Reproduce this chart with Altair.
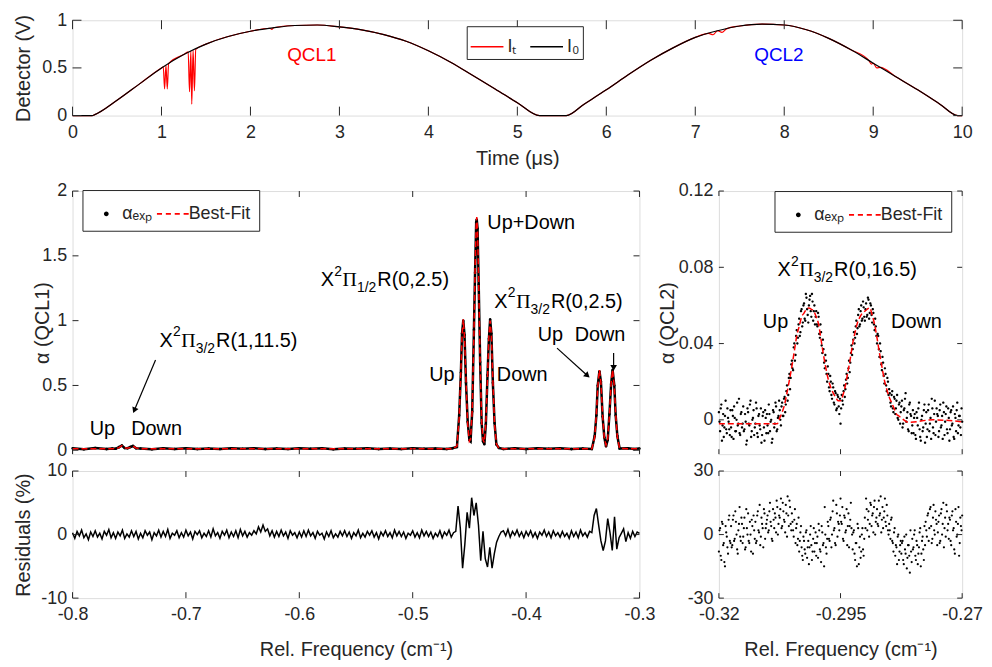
import altair as alt
import numpy as np
import pandas as pd

FONT = "Liberation Sans"
SERIF = "Liberation Serif"
AX = "#262626"

# ---------------- top panel: detector signals ----------------
time_ticks = [0, 1, 2, 3, 4, 5, 6, 7, 8, 9, 10]
det_ticks = [0, 0.5, 1]
t_i0 = [0.0, 0.22, 0.25, 0.5, 0.75, 1.0, 1.25, 1.5, 1.75, 2.0, 2.25, 2.5, 2.75, 3.0, 3.25, 3.5,
        3.75, 4.0, 4.25, 4.5, 4.75, 5.0, 5.25, 5.55, 5.75, 6.0, 6.25, 6.5, 6.75, 7.0, 7.25, 7.5,
        7.75, 8.0, 8.25, 8.5, 8.75, 9.0, 9.25, 9.5, 9.75, 9.95, 10.0]
i0 = [0.0, 0.0, 0.01, 0.16, 0.33, 0.50, 0.64, 0.75, 0.83, 0.885, 0.92, 0.945, 0.95, 0.93, 0.90, 0.85,
      0.78, 0.68, 0.56, 0.42, 0.28, 0.135, 0.0, 0.0, 0.12, 0.27, 0.43, 0.58, 0.71, 0.82, 0.89, 0.94,
      0.96, 0.95, 0.90, 0.81, 0.69, 0.55, 0.41, 0.27, 0.12, 0.0, 0.0]
t_it = [0.0, 0.22, 0.25, 0.5, 0.75, 1.0, 1.02, 1.035, 1.05, 1.065, 1.08, 1.25, 1.30, 1.315, 1.33,
        1.34, 1.355, 1.37, 1.385, 1.5, 1.75, 2.0, 2.22, 2.24, 2.26, 2.5, 2.75, 3.0, 3.25, 3.5, 3.75,
        4.0, 4.25, 4.5, 4.75, 5.0, 5.25, 5.55, 5.75, 6.0, 6.25, 6.5, 6.75, 7.0, 7.15, 7.2, 7.25, 7.3,
        7.35, 7.5, 7.75, 8.0, 8.25, 8.5, 8.75, 8.95, 8.98, 9.0, 9.04, 9.08, 9.25, 9.5, 9.75, 9.95, 10.0]
it = [0.0, 0.0, 0.01, 0.16, 0.33, 0.50, 0.511, 0.28, 0.528, 0.28, 0.545, 0.64, 0.668, 0.25, 0.677,
      0.12, 0.686, 0.26, 0.695, 0.75, 0.83, 0.885, 0.916, 0.905, 0.921, 0.945, 0.95, 0.93, 0.90, 0.85, 0.78,
      0.68, 0.56, 0.42, 0.28, 0.135, 0.0, 0.0, 0.12, 0.27, 0.43, 0.58, 0.71, 0.82, 0.862, 0.848, 0.89, 0.872,
      0.91, 0.94, 0.96, 0.95, 0.90, 0.81, 0.69, 0.578, 0.54, 0.55, 0.50, 0.506, 0.41, 0.27, 0.12, 0.0, 0.0]
qcl_t = [2.69, 7.94]
qcl_v = [0.635, 0.635]

# ---------------- bottom-left: QCL1 spectrum ----------------
f1_ticks = [-0.8, -0.7, -0.6, -0.5, -0.4, -0.3]
a1_ticks = [0, 0.5, 1, 1.5, 2]
r1_ticks = [-10, 0, 10]
f1 = [-0.800, -0.790, -0.780, -0.770, -0.765, -0.762, -0.759, -0.7565, -0.754, -0.7515, -0.749, -0.7467,
      -0.744, -0.740,
      -0.730, -0.720, -0.710, -0.700, -0.690, -0.680, -0.670, -0.660, -0.650, -0.640, -0.630, -0.620,
      -0.610, -0.600, -0.590, -0.580, -0.570, -0.560, -0.550, -0.540, -0.530, -0.520, -0.510, -0.500,
      -0.490, -0.480, -0.470, -0.465,
      -0.4610, -0.4590, -0.4575, -0.4565, -0.4554, -0.4543, -0.4530, -0.4515, -0.4500, -0.4490,
      -0.4475, -0.4460, -0.4450, -0.4440, -0.4435, -0.4428, -0.4418, -0.4405, -0.4392, -0.4380,
      -0.4368, -0.4355, -0.4340, -0.4328, -0.4317, -0.4306, -0.4293, -0.4278, -0.4262, -0.4240,
      -0.420, -0.410, -0.400, -0.390, -0.380, -0.370, -0.360, -0.350,
      -0.3420, -0.3395, -0.3380, -0.3368, -0.3353, -0.3340, -0.3325, -0.3310, -0.3295, -0.3280,
      -0.3265, -0.3250, -0.3237, -0.3222, -0.3210, -0.3195, -0.3175,
      -0.3100, -0.3050, -0.3000]
a1_fit = [0.012, 0.012, 0.012, 0.012, 0.012, 0.013, 0.020, 0.035, 0.020, 0.015, 0.022, 0.032, 0.018, 0.012,
          0.012, 0.012, 0.012, 0.012, 0.012, 0.012, 0.012, 0.012, 0.012, 0.012, 0.012, 0.012, 0.012, 0.012,
          0.012, 0.012, 0.012, 0.012, 0.012, 0.012, 0.012, 0.012, 0.012, 0.012, 0.012, 0.012, 0.012, 0.012,
          0.030, 0.25, 0.62, 0.88, 1.01, 0.87, 0.54, 0.20, 0.07, 0.085,
          0.31, 0.90, 1.39, 1.74, 1.80, 1.69, 1.30, 0.66, 0.23, 0.08,
          0.06, 0.21, 0.56, 0.88, 1.00, 0.88, 0.54, 0.20, 0.05, 0.015,
          0.012, 0.012, 0.012, 0.012, 0.012, 0.012, 0.012, 0.012,
          0.012, 0.10, 0.28, 0.49, 0.62, 0.52, 0.27, 0.09, 0.04, 0.09,
          0.27, 0.52, 0.62, 0.49, 0.28, 0.10, 0.015,
          0.012, 0.012, 0.012]
a1_exp = [0.016, 0.008, 0.017, 0.009, 0.014, 0.011, 0.024, 0.037, 0.017, 0.016, 0.025, 0.033, 0.015, 0.014,
          0.008, 0.015, 0.010, 0.016, 0.009, 0.014, 0.010, 0.016, 0.011, 0.015, 0.009, 0.014, 0.010, 0.016,
          0.011, 0.015, 0.008, 0.014, 0.011, 0.016, 0.009, 0.013, 0.010, 0.015, 0.011, 0.014, 0.010, 0.015,
          0.025, 0.27, 0.60, 0.90, 1.00, 0.89, 0.52, 0.22, 0.08, 0.07,
          0.30, 0.93, 1.37, 1.76, 1.78, 1.71, 1.28, 0.68, 0.21, 0.07,
          0.046, 0.20, 0.58, 0.86, 1.01, 0.90, 0.52, 0.21, 0.045, 0.018,
          0.010, 0.016, 0.009, 0.015, 0.011, 0.016, 0.009, 0.014,
          0.010, 0.11, 0.27, 0.50, 0.61, 0.53, 0.26, 0.10, 0.03, 0.08,
          0.28, 0.51, 0.62, 0.50, 0.27, 0.11, 0.013,
          0.016, 0.009, 0.014]
# residuals (%) on the measurement grid -0.800 ... -0.300, step 0.002
r1 = [0.3, -0.6, 0.5, -0.2, 0.7, -0.5, 0.1, -0.8, 0.4, -0.3,
      0.6, -0.4, 0.2, -0.7, 0.5, -0.1, 0.8, -0.5, 0.3, -0.6,
      0.4, -0.2, 0.7, -0.6, 0.1, -0.4, 0.6, -0.3, 0.5, -0.7,
      0.2, -0.5, 0.6, -0.1, 0.4, -0.8, 0.3, -0.2, 0.7, -0.4,
      0.5, -0.3, 0.8, -0.6, 0.2, -0.1, 0.6, -0.5, 0.3, -0.4,
      0.7, -0.2, 0.4, -0.7, 0.5, 0.0, 0.6, -0.5, 0.2, -0.3,
      0.6, -0.4, 0.9, -0.2, 0.3, -0.6, 0.5, -0.1, 0.7, -0.5,
      0.4, -0.3, 0.6, -0.5, 0.8, -0.2, 0.5, -0.4, 0.3, -0.1,
      0.6, 0.1, 1.2, 0.4, 1.5, 0.5, 0.9, -0.2, 0.6, -0.4,
      0.5, -0.3, 0.7, -0.2, 0.4, -0.6, 0.6, -0.1, 0.3, -0.5,
      0.4, -0.4, 0.6, -0.3, 0.7, -0.2, 0.3, -0.6, 0.5, -0.1,
      0.2, -0.7, 0.4, -0.3, 0.6, -0.5, 0.1, -0.4, 0.5, -0.2,
      0.6, -0.3, 0.4, -0.6, 0.3, -0.2, 0.7, -0.5, 0.2, -0.4,
      0.5, -0.1, 0.6, -0.4, 0.3, -0.7, 0.4, -0.2, 0.6, -0.3,
      0.3, -0.5, 0.7, -0.2, 0.5, -0.3, 0.4, -0.6, 0.2, -0.1,
      0.6, -0.4, 0.3, -0.5, 0.7, -0.2, 0.5, -0.3, 0.4, -0.6,
      0.2, -0.3, 0.6, -0.5, 0.4, -0.1, 0.7, -0.4, 0.3, 0.5,
      4.5, 1.0, -5.3, -1.5, 3.5, 1.0, 5.8, 3.0, 5.0, 1.5,
      -4.1, 0.5, -3.8, -5.1, -2.0, -5.3, -3.0, -1.2, -0.3, 0.4,
      0.6, -0.2, 0.8, -0.4, 0.5, -0.1, 0.7, -0.3, 0.4, -0.5,
      0.5, -0.2, 0.6, -0.4, 0.3, -0.6, 0.4, -0.1, 0.7, -0.3,
      0.4, -0.5, 0.6, -0.2, 0.3, -0.4, 0.5, -0.3, 0.2, -0.6,
      0.6, -0.3, 0.4, -0.5, 0.7, -0.2, 0.3, -0.4, 0.5, 0.3,
      3.0, 4.1, 1.5, -1.0, -2.5, -1.0, 2.5, 0.3, -2.5, 2.8,
      -2.3, -0.5, 0.2, 0.9, -1.1, 0.3, -0.6, 0.5, -0.3, 0.4,
      0.2]

# ---------------- bottom-right: QCL2 spectrum ----------------
f2_ticks = [-0.32, -0.295, -0.27]
a2_ticks = [0, 0.04, 0.08, 0.12]
r2_ticks = [-30, 0, 30]
f2_fit = [-0.320, -0.308,
          -0.3075, -0.307, -0.3065, -0.306, -0.3055, -0.305, -0.3045, -0.304, -0.3035, -0.303,
          -0.3025, -0.302, -0.3015, -0.301, -0.3005, -0.300, -0.2995, -0.299, -0.2985, -0.298,
          -0.2975, -0.297, -0.2965, -0.296, -0.2955, -0.295, -0.2945, -0.294, -0.2935, -0.293,
          -0.2925, -0.292, -0.2915, -0.291, -0.2905, -0.290, -0.2895, -0.289, -0.2885, -0.288,
          -0.2875, -0.287, -0.2865, -0.286, -0.2855, -0.285, -0.2845, -0.284, -0.2835, -0.283,
          -0.282, -0.281, -0.276, -0.270]
a2_fit = [-0.002, -0.002,
          0.001, 0.004, 0.008, 0.0143, 0.021, 0.028, 0.036, 0.044, 0.049, 0.054,
          0.056, 0.058, 0.0587, 0.058, 0.057, 0.054, 0.050, 0.042, 0.034, 0.027,
          0.021, 0.017, 0.014, 0.012, 0.010, 0.010, 0.013, 0.018, 0.025, 0.032,
          0.040, 0.046, 0.051, 0.054, 0.056, 0.057, 0.058, 0.0588, 0.055, 0.050,
          0.043, 0.035, 0.028, 0.021, 0.016, 0.012, 0.009, 0.006, 0.003, 0.002,
          0.000, -0.0013, 0.000, -0.001]
# measured alpha, scan A on the grid -0.32000 ... -0.27000 (step 0.00025)
a2_exp = [0.004, -0.006, 0.008, -0.003, -0.009, 0.002, -0.005, 0.006, -0.001, -0.008,
          -0.004, 0.005, -0.010, 0.001, -0.006, 0.009, -0.002, -0.007, 0.003, -0.004,
          0.007, -0.005, -0.001, -0.011, 0.004, -0.003, 0.010, -0.006, 0.001, -0.008,
          -0.002, 0.006, -0.009, 0.003, -0.005, -0.012, 0.002, -0.004, 0.005, -0.007,
          -0.003, 0.008, -0.006, 0.000, -0.010, 0.004, -0.002, 0.007, -0.005, 0.002,
          0.005, -0.003, 0.009, 0.002, 0.012, 0.008, 0.018, 0.013, 0.024, 0.022,
          0.031, 0.026, 0.040, 0.034, 0.047, 0.043, 0.053, 0.046, 0.058, 0.051,
          0.061, 0.052, 0.064, 0.055, 0.060, 0.065, 0.054, 0.062, 0.057, 0.050,
          0.057, 0.049, 0.054, 0.043, 0.046, 0.035, 0.037, 0.027, 0.031, 0.020,
          0.024, 0.015, 0.020, 0.011, 0.017, 0.008, 0.014, 0.006, 0.012, 0.003,
          -0.002, 0.013, 0.008, 0.018, 0.016, 0.024, 0.022, 0.031, 0.030, 0.039,
          0.037, 0.046, 0.043, 0.052, 0.048, 0.058, 0.050, 0.060, 0.053, 0.059,
          0.052, 0.061, 0.055, 0.063, 0.056, 0.060, 0.051, 0.056, 0.047, 0.049,
          0.040, 0.044, 0.033, 0.036, 0.026, 0.030, 0.019, 0.024, 0.015, 0.020,
          0.016, 0.009, 0.013, 0.006, 0.012, 0.003, 0.010, 0.001, 0.008, -0.002,
          0.007, -0.004, 0.005, 0.011, -0.001, 0.004, -0.006, 0.009, 0.002, -0.003,
          -0.007, 0.003, -0.010, 0.001, 0.006, -0.005, -0.011, 0.002, -0.004, 0.008,
          -0.002, -0.009, 0.005, -0.006, 0.001, 0.011, -0.004, 0.003, -0.008, 0.006,
          0.002, -0.006, 0.008, -0.003, -0.010, 0.004, -0.001, 0.007, -0.007, 0.001,
          -0.005, 0.005, -0.002, -0.009, 0.003, -0.006, 0.009, -0.003, 0.002, -0.008,
          -0.001]
# scan B, interleaved grid -0.319875 ... -0.270125
a2_exp_b = [-0.001, 0.006, -0.011, 0.003, -0.004, 0.010, -0.007, 0.001, -0.005, 0.005,
            -0.009, 0.002, 0.007, -0.006, 0.000, -0.003, 0.011, -0.008, 0.004, -0.002,
            -0.006, 0.003, -0.013, 0.006, -0.002, 0.008, -0.009, 0.000, 0.005, -0.004,
            0.009, -0.007, 0.002, -0.003, 0.006, -0.008, 0.004, -0.011, 0.001, 0.003,
            -0.007, 0.003, -0.001, -0.012, 0.005, -0.004, 0.009, -0.006, 0.001, 0.010,
            0.000, 0.007, 0.002, 0.011, 0.004, 0.015, 0.010, 0.022, 0.016, 0.029,
            0.027, 0.038, 0.031, 0.044, 0.040, 0.050, 0.044, 0.057, 0.049, 0.060,
            0.053, 0.066, 0.058, 0.051, 0.063, 0.057, 0.066, 0.052, 0.060, 0.054,
            0.050, 0.056, 0.045, 0.050, 0.039, 0.042, 0.030, 0.034, 0.024, 0.028,
            0.017, 0.023, 0.013, 0.019, 0.009, 0.015, 0.005, 0.013, 0.007, 0.011,
            0.006, 0.010, 0.015, 0.012, 0.021, 0.019, 0.027, 0.025, 0.035, 0.034,
            0.042, 0.040, 0.049, 0.045, 0.055, 0.049, 0.057, 0.052, 0.062, 0.054,
            0.058, 0.054, 0.064, 0.053, 0.061, 0.055, 0.058, 0.050, 0.053, 0.044,
            0.045, 0.037, 0.040, 0.029, 0.033, 0.023, 0.027, 0.018, 0.022, 0.013,
            0.014, 0.007, 0.015, 0.004, 0.011, 0.006, 0.013, 0.000, 0.009, 0.004,
            0.010, -0.002, 0.006, 0.014, 0.001, -0.005, 0.008, 0.003, -0.007, 0.005,
            0.001, -0.008, 0.004, -0.003, 0.009, -0.009, 0.000, -0.006, 0.005, -0.012,
            0.004, -0.005, 0.008, -0.002, -0.010, 0.006, -0.007, 0.010, -0.001, 0.003,
            -0.009, 0.005, -0.004, 0.002, 0.009, -0.008, 0.003, -0.005, 0.006, -0.011,
            0.004, -0.003, 0.007, -0.010, 0.001, 0.005, -0.007, 0.002, -0.004, 0.006]
r2 = [-8, 3, -12, 5, -4, -15, 1, -6, 7, -3,
      4, -5, 9, -2, 6, -7, 2, 13, -3, 5,
      -1, 8, -6, 3, 10, -4, 0, 7, -9, 2,
      6, -3, 11, 1, -5, 8, 3, 12, -2, 5,
      9, 2, 15, 4, -3, 7, 10, 1, 13, 5,
      8, 17, 4, 11, 6, 14, -1, 9, 16, 5,
      10, 2, 7, -4, 5, -2, -8, 1, -6, -12,
      -3, -9, 2, -6, -14, 0, -5, -8, 3, -4,
      -10, -1, 5, -7, -13, 1, -4, 13, -6, -2,
      4, -3, 8, 0, 16, 3, -5, 10, 6, 2,
      17, 5, -2, 9, 1, 12, 4, -6, 7, 3,
      -7, 2, -12, -4, 5, -14, -1, -8, 3, -10,
      8, 17, 2, 11, 5, 14, 9, 1, 16, 6,
      12, 4, 9, 18, 7, 3, 11, 6, 14, 2,
      5, -2, 8, -4, 1, -10, -6, -1, -12, -5,
      -9, -3, -14, -7, 0, -11, -5, -18, -8, -2,
      -6, 2, -12, -5, -9, 1, -15, -3, -7, 4,
      6, -1, 10, 3, 13, -4, 8, 2, 11, 5,
      1, 9, -3, 12, 5, -6, 8, 14, 2, -2,
      7, -5, 11, 3, -9, 6, 0, 13, -4, 4,
      9]
r2_b = [2, -10, 6, -5, -13, 4, -1, -9, 9, -4,
        -6, 7, -3, 11, 0, -9, 5, -1, 8, -4,
        3, -7, 12, 0, -3, 6, -8, 4, 9, -2,
        -4, 9, 2, 14, -1, 5, -6, 10, 3, 7,
        1, 11, 6, -2, 12, 3, 8, 16, 0, 9,
        12, 3, 15, 7, 1, 10, 18, 4, 13, 2,
        6, -1, 12, 3, -5, 8, -3, 4, -10, -1,
        -7, 1, -11, -3, -6, 4, -12, -2, -8, 1,
        -4, -11, 2, -8, 4, -5, -15, 0, -9, 6,
        -2, 7, -6, 11, 2, -4, 14, -1, 5, 9,
        6, 13, -3, 8, 2, -5, 10, 4, 15, 0,
        1, -9, -4, -15, 3, -6, -11, 0, -7, -2,
        3, 12, 7, -1, 15, 4, 10, 13, 0, 8,
        5, 16, 10, 1, 13, 8, 17, 4, 9, 0,
        2, 7, -3, -8, 3, -5, -14, 0, -8, -3,
        -4, -12, -1, -9, -16, -5, -10, 2, -13, -7,
        0, -10, -3, -14, -6, 3, -9, -1, -12, -5,
        2, 9, -3, 12, 4, -2, 14, 0, 7, -5,
        6, -4, 10, 0, 15, 3, -1, 11, 5, 8,
        -3, 9, 2, -7, 12, -1, 5, -10, 8, 2]

# ---------------- annotations ----------------
ann1_txt = ["Up", "Down", "Up+Down", "Up", "Down", "Up", "Down"]
ann1_x = [-0.7737, -0.7259, -0.3955, -0.4742, -0.4034, -0.3786, -0.3348]
ann1_y = [0.161, 0.161, 1.754, 0.581, 0.581, 0.888, 0.888]
term1 = [("1/2", "R(0,2.5)", -0.5811, 1.31), ("3/2", "R(1,11.5)", -0.7233, 0.84),
         ("3/2", "R(0,2.5)", -0.4280, 1.142)]
arr1_x0 = [-0.7268, -0.3727, -0.3228]
arr1_y0 = [0.696, 0.788, 0.75]
arr1_x1 = [-0.7452, -0.3465, -0.3228]
arr1_y1 = [0.314, 0.581, 0.643]
arr1_ang = [203, 132, 180]
ann2_txt = ["Up", "Down"]
ann2_x = [-0.30837, -0.27939]
ann2_y = [0.0513, 0.0513]
term2 = [("3/2", "R(0,16.5)", -0.30796, 0.0783)]

assert len(t_i0) == len(i0) and len(t_it) == len(it)
assert len(f1) == len(a1_fit) == len(a1_exp)
assert len(f2_fit) == len(a2_fit) and len(a2_exp) == len(r2) == 201 and len(r1) == 251
assert len(a2_exp_b) == len(r2_b) == 200

r1_x = np.round(np.linspace(-0.8, -0.3, len(r1)), 4)
f2_grid = np.round(np.linspace(-0.32, -0.27, len(a2_exp)), 6)
f2_grid_b = np.round(np.linspace(-0.319875, -0.270125, len(a2_exp_b)), 6)
f2_all = np.concatenate([f2_grid, f2_grid_b])
a2_all = list(a2_exp) + list(a2_exp_b)
r2_all = list(r2) + list(r2_b)

SER = ["αₑₓₚ", "Best-Fit"]
DOT = "M0.15,0A0.15,0.15,0,1,1,-0.15,0A0.15,0.15,0,1,1,0.15,0Z"
DASH = ("M-1,-0.06H-0.68V0.06H-1Z M-0.44,-0.06H-0.12V0.06H-0.44Z "
        "M0.12,-0.06H0.44V0.06H0.12Z M0.68,-0.06H1V0.06H0.68Z")


# ---------------- helpers ----------------
def xax(ticks, title, tpad):
    return alt.Axis(values=ticks, ticks=False, tickSize=0, domain=False, grid=False,
                    labelFlush=False, labelOverlap=False, labelPadding=8,
                    labelFont=FONT, labelFontSize=18, labelColor=AX,
                    labelExpr="'' + datum.value", title=title, titleFont=FONT,
                    titleFontSize=20, titleFontWeight="normal", titleColor=AX,
                    titlePadding=tpad)


def yax(ticks, title, tpad):
    return alt.Axis(values=ticks, ticks=False, tickSize=0, domain=False, grid=False,
                    labelFlush=False, labelOverlap=False, labelPadding=6,
                    labelFont=FONT, labelFontSize=18, labelColor=AX,
                    labelExpr="'' + datum.value", title=title, titleFont=FONT,
                    titleFontSize=20, titleFontWeight="normal", titleColor=AX,
                    titlePadding=tpad)


class Panel:
    def __init__(self, xs, ys, ax, ay, w, h):
        self.xs, self.ys, self.ax, self.ay, self.w, self.h = xs, ys, ax, ay, w, h

    def X(self, f="x"):
        return alt.X(f + ":Q", scale=self.xs, axis=self.ax)

    def Y(self, f="y"):
        return alt.Y(f + ":Q", scale=self.ys, axis=self.ay)


def frame_ticks(p, xt, yt, L):
    dxt = pd.DataFrame({"v": xt})
    dyt = pd.DataFrame({"v": yt})
    out = []
    for a, b in [(0, L), (p.h, p.h - L)]:
        out.append(alt.Chart(dxt).mark_rule(color=AX, strokeWidth=1).encode(
            x=p.X("v"), y=alt.value(a), y2=alt.value(b)))
    for a, b in [(0, L), (p.w, p.w - L)]:
        out.append(alt.Chart(dyt).mark_rule(color=AX, strokeWidth=1).encode(
            y=p.Y("v"), x=alt.value(a), x2=alt.value(b)))
    return out


def texts(p, xv, yv, labels, color="black", size=20):
    df = pd.DataFrame({"x": xv, "y": yv, "t": labels})
    return alt.Chart(df).mark_text(font=FONT, fontSize=size, color=color, align="center",
                                   baseline="middle").encode(x=p.X(), y=p.Y(), text="t:N")


def term(p, sub, rest, x, y):
    df = pd.DataFrame({"x": [x], "y": [y]})
    parts = [("X", FONT, 20, 0, 0), ("2", FONT, 14, 13.5, -9), ("Π", SERIF, 20, 22, 0),
             (sub, FONT, 14, 36.5, 8), (rest, FONT, 20, 57, 0)]
    return [alt.Chart(df).mark_text(text=t, font=f, fontSize=s, dx=dx, dy=dy, align="left",
                                    baseline="middle", color="black").encode(x=p.X(), y=p.Y())
            for t, f, s, dx, dy in parts]


def arrows(p, x0, y0, x1, y1, ang):
    out = []
    for i in range(len(x0)):
        seg = pd.DataFrame({"x": [x0[i], x1[i]], "y": [y0[i], y1[i]]})
        out.append(alt.Chart(seg).mark_line(color="black", strokeWidth=1.2).encode(x=p.X(), y=p.Y()))
        hd = pd.DataFrame({"x": [x1[i]], "y": [y1[i]]})
        out.append(alt.Chart(hd).mark_point(shape="triangle", filled=True, color="black", opacity=1,
                                            size=45, angle=ang[i]).encode(x=p.X(), y=p.Y()))
    return out


def exp_points(p, df, lx, ly, size):
    leg = alt.Legend(title=None, orient="none", legendX=lx, legendY=ly, direction="horizontal",
                     symbolSize=1024, symbolStrokeWidth=0, labelFont=FONT, labelFontSize=18,
                     labelColor=AX, strokeColor=AX, fillColor="white", padding=8,
                     columnPadding=4, labelOffset=0)
    return alt.Chart(df).mark_point(filled=True, opacity=1, size=size, strokeWidth=0).encode(
        x=p.X(), y=p.Y(),
        color=alt.Color("s:N", scale=alt.Scale(domain=SER, range=["#000000", "#ff0000"]), legend=leg),
        shape=alt.Shape("s:N", scale=alt.Scale(domain=SER, range=[DOT, DASH]), legend=leg))


# ---------------- top chart ----------------
pT = Panel(alt.Scale(domain=[0, 10], nice=False, zero=False),
           alt.Scale(domain=[0, 1], nice=False, zero=False),
           xax(time_ticks, "Time (μs)", 7), yax(det_ticks, "Detector (V)", 8), 896, 96)
legT = alt.Legend(title=None, orient="none", legendX=397, legendY=6, direction="horizontal",
                  symbolType="stroke", symbolSize=1089, symbolStrokeWidth=1.5, labelFont=FONT,
                  labelFontSize=18, labelColor=AX, strokeColor=AX, fillColor="white", padding=3,
                  columnPadding=10, labelOffset=3)
colT = alt.Color("s:N", scale=alt.Scale(domain=["Iₜ", "I₀"], range=["#ff0000", "#000000"]), legend=legT)
df_it = pd.DataFrame({"x": t_it, "y": it, "s": "Iₜ"})
df_i0 = pd.DataFrame({"x": t_i0, "y": i0, "s": "I₀"})
l_it = alt.Chart(df_it).mark_line(strokeWidth=1.2, interpolate="monotone").encode(
    x=pT.X(), y=pT.Y(), color=colT)
l_i0 = alt.Chart(df_i0).mark_line(strokeWidth=1.2, interpolate="monotone").encode(
    x=pT.X(), y=pT.Y(), color=colT)
top = alt.layer(
    l_it, l_i0,
    texts(pT, [qcl_t[0]], [qcl_v[0]], ["QCL1"], "#ff0000", 19),
    texts(pT, [qcl_t[1]], [qcl_v[1]], ["QCL2"], "#0000ff", 19),
    *frame_ticks(pT, time_ticks, det_ticks, 9)
).properties(width=pT.w, height=pT.h)

# ---------------- bottom-left ----------------
xs1 = alt.Scale(domain=[-0.8, -0.3], nice=False, zero=False)
p1 = Panel(xs1, alt.Scale(domain=[-0.03, 2], nice=False, zero=False),
           None, yax(a1_ticks, "α (QCL1)", -11), 571, 265)
df1 = pd.DataFrame({"x": f1, "y": a1_exp, "s": SER[0]})
df1f = pd.DataFrame({"x": f1, "y": a1_fit})
a1_line = alt.Chart(df1).mark_line(color="black", strokeWidth=2.5).encode(x=p1.X(), y=p1.Y())
a1_fitl = alt.Chart(df1f).mark_line(color="#ff0000", strokeWidth=1.5, strokeDash=[6, 3]).encode(
    x=p1.X(), y=p1.Y())
t1_layers = []
for sub, rest, x, y in term1:
    t1_layers += term(p1, sub, rest, x, y)
bl_alpha = alt.layer(
    a1_line, exp_points(p1, df1, 10, -1, 300), a1_fitl,
    texts(p1, ann1_x, ann1_y, ann1_txt), *t1_layers,
    *arrows(p1, arr1_x0, arr1_y0, arr1_x1, arr1_y1, arr1_ang),
    *frame_ticks(p1, f1_ticks, a1_ticks, 6)
).properties(width=p1.w, height=p1.h)

p1r = Panel(xs1, alt.Scale(domain=[-10, 10], nice=False, zero=False),
            xax(f1_ticks, "Rel. Frequency (cm⁻¹)", 16), yax(r1_ticks, "Residuals (%)", 7), 571, 128)
df1r = pd.DataFrame({"x": r1_x, "y": r1})
r1_line = alt.Chart(df1r).mark_line(color="black", strokeWidth=1.5).encode(x=p1r.X(), y=p1r.Y())
bl_res = alt.layer(r1_line, *frame_ticks(p1r, f1_ticks, r1_ticks, 6)).properties(
    width=p1r.w, height=p1r.h)

# ---------------- bottom-right ----------------
xs2 = alt.Scale(domain=[-0.32, -0.27], nice=False, zero=False)
p2 = Panel(xs2, alt.Scale(domain=[-0.018, 0.12], nice=False, zero=False),
           None, yax(a2_ticks, "α (QCL2)", 1), 245, 265)
df2 = pd.DataFrame({"x": f2_all, "y": a2_all, "s": SER[0]})
df2f = pd.DataFrame({"x": f2_fit, "y": a2_fit})
fit2 = alt.Chart(df2f).mark_line(color="#ff0000", strokeWidth=1.5, strokeDash=[6, 3],
                                 interpolate="monotone").encode(x=p2.X(), y=p2.Y())
t2_layers = []
for sub, rest, x, y in term2:
    t2_layers += term(p2, sub, rest, x, y)
br_alpha = alt.layer(
    exp_points(p2, df2, 56, 0, 260), fit2, texts(p2, ann2_x, ann2_y, ann2_txt), *t2_layers,
    *frame_ticks(p2, f2_ticks, a2_ticks, 5)
).properties(width=p2.w, height=p2.h)

p2r = Panel(xs2, alt.Scale(domain=[-30, 30], nice=False, zero=False),
            xax(f2_ticks, "Rel. Frequency (cm⁻¹)", 16), yax(r2_ticks, None, 4), 245, 128)
df2r = pd.DataFrame({"x": f2_all, "y": r2_all})
r2_pts = alt.Chart(df2r).mark_circle(color="black", size=5, opacity=1).encode(x=p2r.X(), y=p2r.Y())
br_res = alt.layer(r2_pts, *frame_ticks(p2r, f2_ticks, r2_ticks, 5)).properties(
    width=p2r.w, height=p2r.h)

# ---------------- layout ----------------
IND = dict(x="independent", y="independent", color="independent", shape="independent")
row2 = alt.hconcat(bl_alpha, br_alpha, spacing=80, bounds="flush").resolve_scale(**IND).resolve_legend(
    color="independent", shape="independent")
row3 = alt.hconcat(bl_res, br_res, spacing=80, bounds="flush").resolve_scale(
    x="independent", y="independent")
inner = alt.vconcat(row2, row3, spacing=1).resolve_scale(**IND).resolve_legend(
    color="independent", shape="independent")
chart = alt.vconcat(top, inner, spacing=12).resolve_scale(**IND).resolve_legend(
    color="independent", shape="independent").properties(
    padding={"left": 5, "top": 0, "right": 0, "bottom": 0}, background="white"
).configure_view(stroke=AX, strokeWidth=1).configure(font=FONT)

chart.save("out.html", embed_options={"renderer": "svg", "actions": False})
